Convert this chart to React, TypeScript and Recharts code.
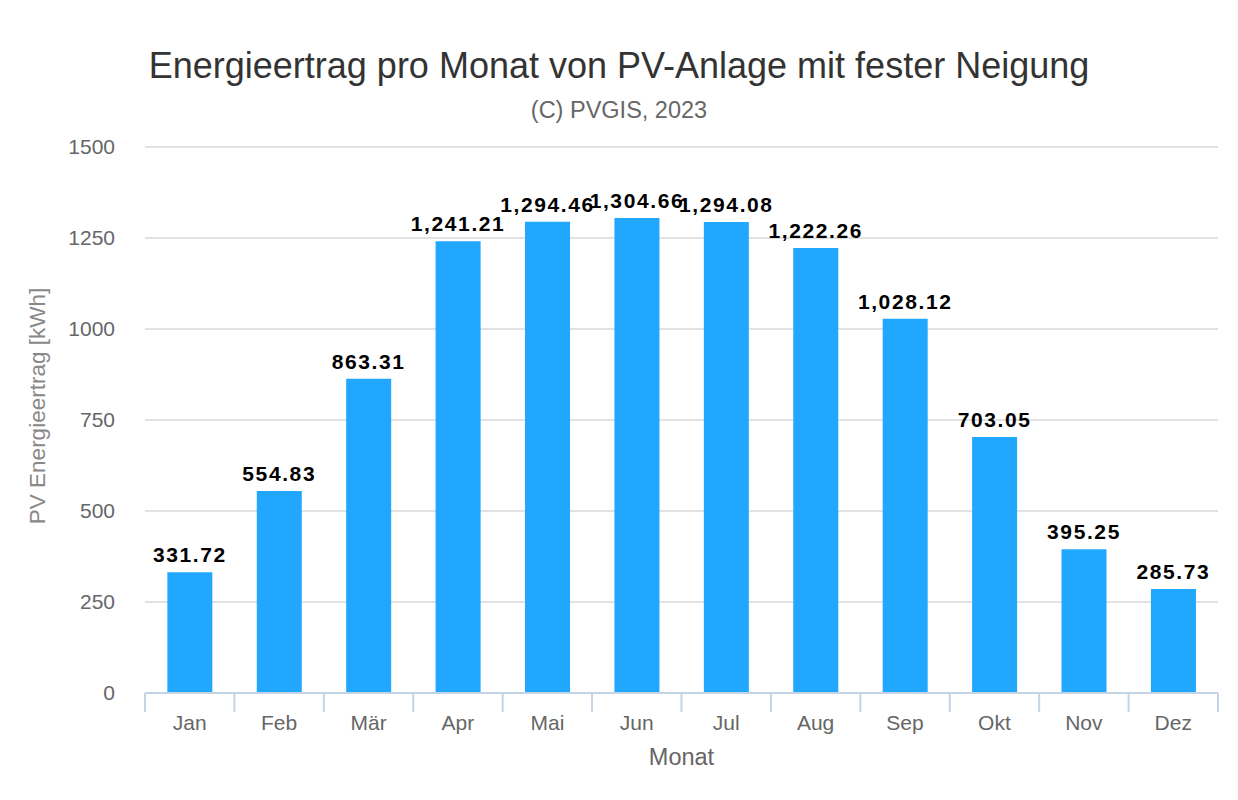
import React from 'react';
import { BarChart, Bar, XAxis, YAxis, CartesianGrid, LabelList } from 'recharts';

const months = ['Jan', 'Feb', 'Mär', 'Apr', 'Mai', 'Jun', 'Jul', 'Aug', 'Sep', 'Okt', 'Nov', 'Dez'];
const energy = [331.72, 554.83, 863.31, 1241.21, 1294.46, 1304.66, 1294.08, 1222.26, 1028.12, 703.05, 395.25, 285.73];
const yTicks = [0, 250, 500, 750, 1000, 1250, 1500];

const data = months.map((m, i) => ({ month: m, value: energy[i] }));

const FONT = 'Arial, "Liberation Sans", Helvetica, sans-serif';
const AXIS = '#c5d3e6';

const fmt = (v: number) =>
  v.toLocaleString('en-US', { minimumFractionDigits: 2, maximumFractionDigits: 2 });

// month label plus a tick mark on the left edge of each band (and the right edge of the last)
const MonthTick = (props: any) => {
  const { x, y, payload, index } = props;
  const half = payload.offset || 0;
  return (
    <g>
      <line x1={x - half} x2={x - half} y1={y} y2={y + 19} stroke={AXIS} strokeWidth={2} />
      {index === months.length - 1 && (
        <line x1={x + half} x2={x + half} y1={y} y2={y + 19} stroke={AXIS} strokeWidth={2} />
      )}
      <text x={x} y={y + 37} textAnchor="middle" fill="#666" fontSize={21} fontFamily={FONT}>
        {payload.value}
      </text>
    </g>
  );
};

const YTitle = (props: any) => {
  const { y, height } = props.viewBox;
  const cy = y + height / 2 - 14;
  return (
    <text x={37} y={cy} transform={`rotate(-90 37 ${cy})`} textAnchor="middle" dominantBaseline="central" fill="#888" fontSize={22.5} fontFamily={FONT}>
      PV Energieertrag [kWh]
    </text>
  );
};

const XTitle = (props: any) => {
  const { x, y, width } = props.viewBox;
  return (
    <text x={x + width / 2} y={y + 72} textAnchor="middle" fill="#666" fontSize={23.5} fontFamily={FONT}>
      Monat
    </text>
  );
};

const App: React.FC = () => {
  return (
    <div style={{ position: 'absolute', left: 0, top: 0, width: 1238, height: 800, fontFamily: FONT, background: '#fff' }}>
      <div style={{ position: 'absolute', top: 45, width: 1238, textAlign: 'center', fontSize: 36, color: '#333', lineHeight: 'normal' }}>
        Energieertrag pro Monat von PV-Anlage mit fester Neigung
      </div>
      <div style={{ position: 'absolute', top: 97, width: 1238, textAlign: 'center', fontSize: 23.5, color: '#666', lineHeight: 'normal' }}>
        (C) PVGIS, 2023
      </div>
      <BarChart
        width={1238}
        height={800}
        data={data}
        margin={{ top: 147, right: 20, bottom: 27, left: 0 }}
        barCategoryGap="25%"
        style={{ position: 'absolute', left: 0, top: 0, fontFamily: FONT }}
      >
        <CartesianGrid vertical={false} stroke="#d8d8d8" strokeWidth={1.5} />
        <XAxis
          dataKey="month"
          axisLine={{ stroke: AXIS, strokeWidth: 2 }}
          tickLine={false}
          tickSize={0}
          tickMargin={0}
          height={80}
          tick={<MonthTick />}
          label={<XTitle />}
        />
        <YAxis
          domain={[0, 1500]}
          ticks={yTicks}
          axisLine={false}
          tickLine={false}
          tickSize={0}
          tickMargin={30}
          width={145}
          tick={{ fill: '#666', fontSize: 21 }}
          label={<YTitle />}
        />
        <Bar dataKey="value" fill="#22a7ff" isAnimationActive={false}>
          <LabelList
            dataKey="value"
            position="top"
            offset={10}
            formatter={(v: any) => fmt(Number(v))}
            style={{ fill: '#000', fontWeight: 'bold', fontSize: 21, letterSpacing: 1.6 }}
          />
        </Bar>
      </BarChart>
    </div>
  );
};
export default App;
